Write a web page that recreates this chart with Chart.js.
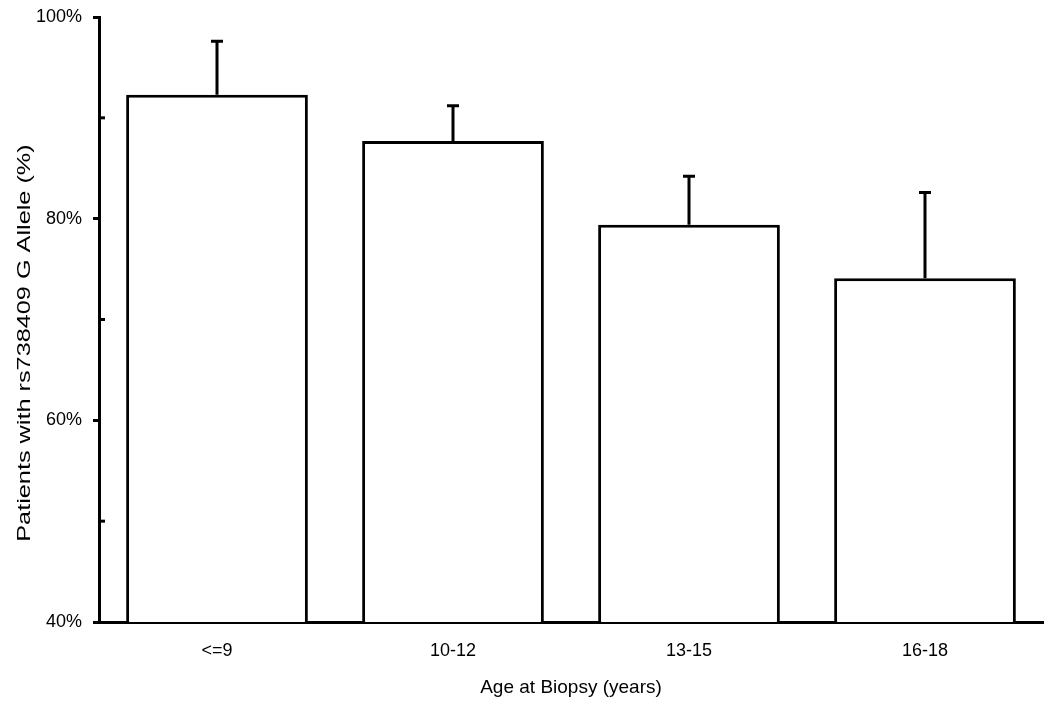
<!DOCTYPE html>
<html>
<head>
<meta charset="utf-8">
<script src="https://cdn.jsdelivr.net/npm/chart.js@4"></script>
<style>
    html, body { margin: 0; padding: 0; background: #fff; }
    #wrap { width: 1050px; height: 706px; }
</style>
</head>
<body>
<div id="wrap"><canvas id="ageChart" width="1050" height="706"></canvas></div>
<script>
const ageGroups = ["<=9", "10-12", "13-15", "16-18"];
const pctGAllele = [92.3, 87.7, 79.4, 74.1];
const pctError = [5.3, 3.5, 4.8, 8.5];
const minorTicks = [50, 70, 90];
const yTitle = "Patients with rs738409 G Allele (%)";

const fontFam = "'Liberation Sans', Arial, sans-serif";

// upper error bars, inward minor ticks and the (stretched) y title
const extras = {
    id: "extras",
    afterDatasetsDraw(chart)
    {
        const ctx = chart.ctx;
        const yScale = chart.scales.y;
        const meta = chart.getDatasetMeta(0);
        const area = chart.chartArea;
        ctx.save();
        ctx.strokeStyle = "#000";
        ctx.lineWidth = 3;
        meta.data.forEach((bar, i) => {
            const yBase = yScale.getPixelForValue(pctGAllele[i]);
            const yTop = yScale.getPixelForValue(pctGAllele[i] + pctError[i]);
            ctx.beginPath();
            ctx.moveTo(bar.x, yBase);
            ctx.lineTo(bar.x, yTop);
            ctx.moveTo(bar.x - 6, yTop);
            ctx.lineTo(bar.x + 6, yTop);
            ctx.stroke();
        });

        minorTicks.forEach((v) => {
            const y = yScale.getPixelForValue(v);
            ctx.beginPath();
            ctx.moveTo(area.left, y);
            ctx.lineTo(area.left + 6, y);
            ctx.stroke();
        });

        ctx.translate(25, 343);
        ctx.rotate(-Math.PI / 2);
        ctx.scale(1.33, 1);
        ctx.fillStyle = "#000";
        ctx.font = "19px " + fontFam;
        ctx.textAlign = "center";
        ctx.textBaseline = "middle";
        ctx.fillText(yTitle, 0, 0);
        ctx.restore();
    }
};

const ctx = document.getElementById("ageChart").getContext("2d");
const ageChart = new Chart(ctx, {
    type: "bar",
    data: {
        labels: ageGroups,
        datasets: [{
            data: pctGAllele,
            backgroundColor: "#fff",
            borderColor: "#000",
            borderWidth: 3,
            borderSkipped: false,
            categoryPercentage: 1,
            barPercentage: 0.77
        }]
    },
    options: {
        responsive: false,
        animation: false,
        devicePixelRatio: 1,
        layout: { padding: { top: 17, right: 7, left: 0, bottom: 0 } },
        plugins: {
            legend: { display: false },
            tooltip: { enabled: false }
        },
        scales: {
            y: {
                min: 40,
                max: 100,
                afterFit: (scale) => {
                    scale.width = 99;
                    scale.paddingTop = 0;
                    scale.paddingBottom = 0;
                },
                ticks: {
                    stepSize: 20,
                    color: "#000",
                    padding: 11,
                    font: { family: fontFam, size: 18 },
                    callback: (v) => v + "%"
                },
                grid: {
                    drawOnChartArea: false,
                    drawTicks: true,
                    tickLength: 6,
                    tickWidth: 3,
                    tickColor: "#000"
                },
                border: { display: true, color: "#000", width: 3 }
            },
            x: {
                afterFit: (scale) => { scale.height = 84; },
                ticks: {
                    color: "#000",
                    padding: 18,
                    font: { family: fontFam, size: 18 }
                },
                grid: { display: false, drawTicks: false },
                border: { display: true, color: "#000", width: 3 },
                title: {
                    display: true,
                    text: "Age at Biopsy (years)",
                    color: "#000",
                    font: { family: fontFam, size: 19 },
                    padding: { top: 0, bottom: 7 }
                }
            }
        }
    },
    plugins: [extras]
});
</script>
</body>
</html>
